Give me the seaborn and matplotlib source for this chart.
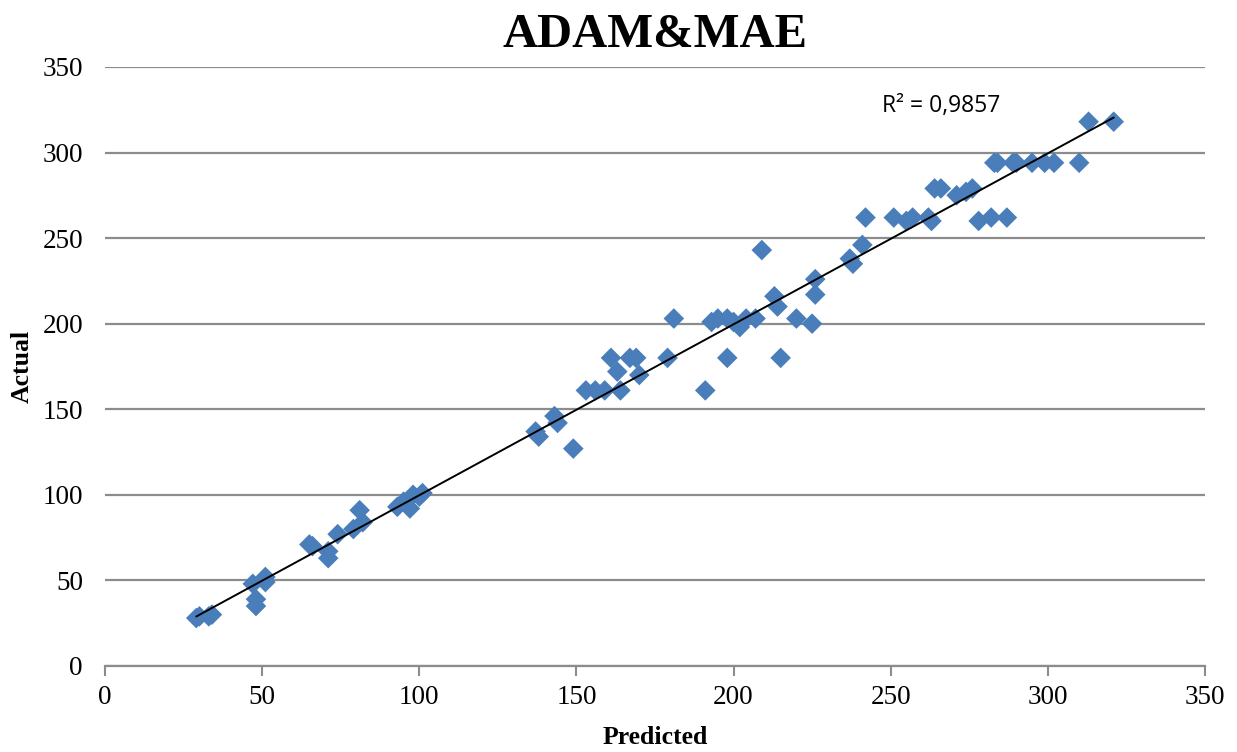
import numpy as np
import pandas as pd
import matplotlib
matplotlib.use("Agg")
import matplotlib.pyplot as plt
import seaborn as sns

# Predicted vs actual values
predicted = [29, 30, 34, 33, 47, 48, 48, 51, 51, 65, 66, 71, 71, 74, 79, 81, 82,
             93, 95, 97, 98, 100, 101, 137, 138, 143, 144, 149, 153, 156, 159,
             161, 163, 164, 167, 169, 170, 179, 181, 191, 193, 195, 198, 198,
             200, 202, 204, 207, 209, 213, 214, 215, 220, 225, 226, 226, 237,
             238, 241, 242, 251, 255, 257, 262, 263, 264, 266, 271, 274, 276,
             278, 282, 283, 284, 287, 289, 290, 295, 299, 302, 310, 313, 321]
actual = [28, 29, 30, 29, 48, 39, 35, 52, 49, 71, 70, 63, 67, 77, 80, 91, 84,
          93, 96, 92, 100, 99, 101, 137, 134, 146, 142, 127, 161, 161, 161,
          180, 172, 161, 180, 180, 170, 180, 203, 161, 201, 203, 180, 203,
          201, 198, 203, 203, 243, 216, 210, 180, 203, 200, 226, 217, 238,
          235, 246, 262, 262, 260, 262, 262, 260, 279, 279, 275, 277, 279,
          260, 262, 294, 294, 262, 294, 294, 294, 294, 294, 294, 318, 318]
r2_label = "R² = 0,9857"
x_ticks = [0, 50, 100, 150, 200, 250, 300, 350]
y_ticks = [0, 50, 100, 150, 200, 250, 300, 350]

df = pd.DataFrame({"Predicted": predicted, "Actual": actual})

sns.set_theme(style="white")
plt.rcParams["font.family"] = ["Liberation Serif", "DejaVu Serif"]
plt.rcParams["text.color"] = "black"
plt.rcParams["axes.labelcolor"] = "black"
plt.rcParams["xtick.color"] = "black"
plt.rcParams["ytick.color"] = "black"

fig = plt.figure(figsize=(12.37, 7.52), dpi=100)
ax = fig.add_axes([0.085, 0.1144, 0.889, 0.7966])

ax.set_axisbelow(True)
ax.yaxis.grid(True, color="#8c8c8c", linewidth=1.6)
ax.xaxis.grid(False)

sns.scatterplot(data=df, x="Predicted", y="Actual", marker="D", s=110,
                color="#4a7ebb", edgecolor="none", ax=ax, zorder=3)

# Linear trendline over the data range
slope, intercept = np.polyfit(df["Predicted"], df["Actual"], 1)
xs = np.array([min(predicted), max(predicted)])
ax.plot(xs, slope * xs + intercept, color="black", linewidth=1.4, zorder=4)

ax.text(266, 327, r2_label, fontsize=16.5, family=["Open Sans", "DejaVu Sans"],
        ha="center", va="center", color="black")

ax.set_xlim(0, 350)
ax.set_ylim(0, 350)
ax.set_xticks(x_ticks)
ax.set_yticks(y_ticks)
ax.tick_params(axis="x", which="major", bottom=True, length=7, width=1.5,
               color="#8c8c8c", labelcolor="black", labelsize=19.5, pad=7)
ax.tick_params(axis="y", left=False, labelsize=19.5, labelcolor="black", pad=10)

for side in ["top", "right", "left"]:
    ax.spines[side].set_visible(False)
ax.spines["bottom"].set_color("#8c8c8c")
ax.spines["bottom"].set_linewidth(1.6)

ax.set_xlabel("Predicted", fontsize=18.5, fontweight="bold")
ax.set_ylabel("Actual", fontsize=18.5, fontweight="bold")
ax.xaxis.set_label_coords(0.5, -0.100)
ax.yaxis.set_label_coords(-0.065, 0.5)
ax.set_title("ADAM&MAE", fontsize=35, fontweight="bold", pad=14)

fig.savefig("out.png", dpi=100)
